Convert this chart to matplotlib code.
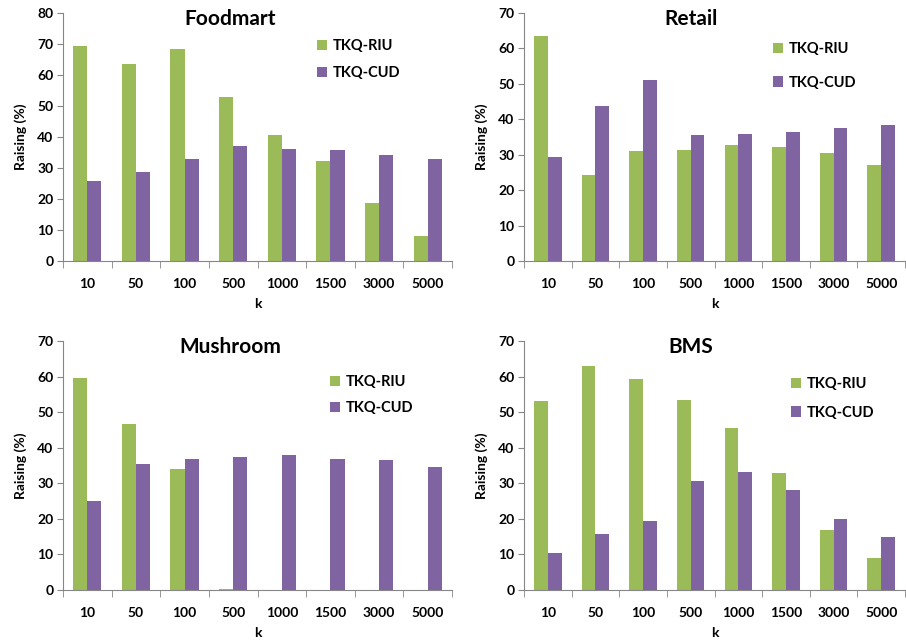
import numpy as np
import matplotlib
matplotlib.use("Agg")
from matplotlib import pyplot as plt

plt.rcParams['font.family'] = ['Lato', 'DejaVu Sans']
plt.rcParams['font.weight'] = 'bold'

ks = ['10', '50', '100', '500', '1000', '1500', '3000', '5000']

foodmart_riu = [69.3, 63.7, 68.4, 52.9, 40.5, 32.2, 18.7, 8.2]
foodmart_cud = [25.8, 28.6, 32.9, 37.0, 36.1, 35.7, 34.2, 32.9]

retail_riu = [63.4, 24.3, 31.1, 31.2, 32.7, 32.2, 30.4, 27.2]
retail_cud = [29.4, 43.7, 51.0, 35.7, 35.8, 36.4, 37.6, 38.5]

mushroom_riu = [59.5, 46.8, 34.1, 0.4, 0, 0, 0, 0]
mushroom_cud = [25.1, 35.5, 36.8, 37.3, 38.0, 36.7, 36.6, 34.6]

bms_riu = [53.2, 63.1, 59.3, 53.4, 45.6, 33.0, 16.9, 9.1]
bms_cud = [10.4, 15.8, 19.3, 30.7, 33.1, 28.1, 19.9, 15.0]

green = '#9BBB59'
purple = '#8064A2'
W, H = 906, 644

fig = plt.figure(figsize=(W / 100, H / 100), dpi=100)

# (title, riu, cud, ymax, axes px [left, top, right, bottom], title x px, legend px [x, y], legend gap)
panels = [
    ('Foodmart', foodmart_riu, foodmart_cud, 80, (63, 13, 452, 261), 230, (317, 39), 0.9),
    ('Retail', retail_riu, retail_cud, 70, (524, 13, 905, 261), 691, (773, 42), 1.34),
    ('Mushroom', mushroom_riu, mushroom_cud, 70, (63, 341, 452, 590), 230, (330, 375), 0.83),
    ('BMS', bms_riu, bms_cud, 70, (524, 341, 905, 590), 691, (791, 377), 1.0),
]

x = np.arange(len(ks))
bw = 0.29

for title, riu, cud, ymax, (l, t, r, b), tx, (lx, ly), gap in panels:
    ax = fig.add_axes([l / W, 1 - b / H, (r - l) / W, (b - t) / H])
    ax.bar(x - bw / 2, riu, bw, color=green, label='TKQ-RIU')
    ax.bar(x + bw / 2, cud, bw, color=purple, label='TKQ-CUD')
    ax.set_xlim(-0.5, len(ks) - 0.5)
    ax.set_ylim(0, ymax)
    ax.set_yticks(np.arange(0, ymax + 1, 10))
    ax.set_xticks(x)
    ax.set_xticklabels(ks)
    ax.set_xticks(np.arange(-0.5, len(ks)), minor=True)
    ax.tick_params(axis='x', which='major', length=0, pad=12, labelsize=10)
    ax.tick_params(axis='x', which='minor', length=5, color='#868686', direction='out')
    ax.tick_params(axis='y', length=4, color='#868686', labelsize=10, pad=3)
    for s in ['top', 'right']:
        ax.spines[s].set_visible(False)
    for s in ['left', 'bottom']:
        ax.spines[s].set_color('#868686')
    ax.set_xlabel('k', fontsize=10, fontweight='bold', labelpad=6)
    ax.set_ylabel('Raising (%)', fontsize=10, fontweight='bold', labelpad=7)
    fig.text(tx / W, 1 - (t + 6) / H, title, ha='center', va='center',
             fontsize=15, fontweight='bold')
    ax.legend(loc='upper left', bbox_to_anchor=(lx / W, 1 - ly / H),
              bbox_transform=fig.transFigure, frameon=False,
              handlelength=0.7, handleheight=0.7, handletextpad=0.4,
              labelspacing=gap, prop={'size': 10.5, 'weight': 'bold'},
              borderaxespad=0, borderpad=0)

fig.savefig('out.png', dpi=100)
